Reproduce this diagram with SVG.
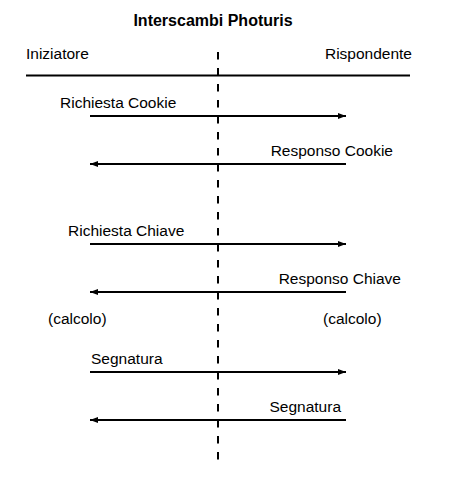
<svg xmlns="http://www.w3.org/2000/svg" width="466" height="480" viewBox="0 0 466 480">
<style>
text{font-family:"Liberation Sans",Arial,Helvetica,sans-serif;font-size:15.5px;fill:#000}
.title{font-weight:bold;font-size:16px}
.end{text-anchor:end}
.msg{stroke:#000;stroke-width:2;fill:none;marker-end:url(#ah)}
</style>
<defs>
<marker id="ah" viewBox="0 0 8 6" refX="8" refY="3" markerWidth="8" markerHeight="6" markerUnits="userSpaceOnUse" orient="auto">
<path d="M0,0 L8,3 L0,6 Z" fill="#000"/>
</marker>
</defs>
<rect width="466" height="480" fill="#fff"/>
<g id="title"><text class="title" x="213" y="26" text-anchor="middle">Interscambi Photuris</text></g>
<g id="iniziatore"><text x="26" y="59">Iniziatore</text></g>
<g id="rispondente"><text class="end" x="412" y="59">Rispondente</text></g>
<g id="header-line"><line x1="26" y1="75.5" x2="410" y2="75.5" stroke="#000" stroke-width="2"/></g>
<g id="divider"><line x1="218" y1="52" x2="218" y2="460" stroke="#000" stroke-width="2" stroke-dasharray="7.5 8.5"/></g>
<g id="connectors">
<line class="msg" x1="90" y1="116" x2="346" y2="116"/>
<line class="msg" x1="346" y1="164" x2="90" y2="164"/>
<line class="msg" x1="90" y1="244" x2="346" y2="244"/>
<line class="msg" x1="346" y1="292" x2="90" y2="292"/>
<line class="msg" x1="90" y1="372" x2="346" y2="372"/>
<line class="msg" x1="346" y1="420" x2="90" y2="420"/>
</g>
<g id="labels">
<text x="60" y="108">Richiesta Cookie</text>
<text class="end" x="393" y="156">Responso Cookie</text>
<text x="68" y="236">Richiesta Chiave</text>
<text class="end" x="401" y="284">Responso Chiave</text>
<text x="48" y="324">(calcolo)</text>
<text x="323" y="324">(calcolo)</text>
<text x="91" y="364">Segnatura</text>
<text class="end" x="341" y="412">Segnatura</text>
</g>
</svg>
